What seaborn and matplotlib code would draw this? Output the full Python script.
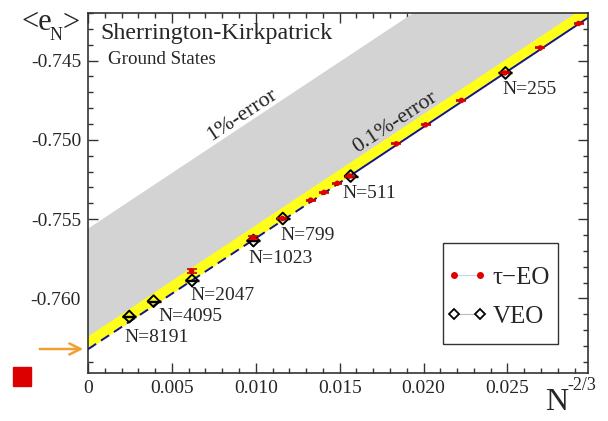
import numpy as np
import pandas as pd
import seaborn as sns
import matplotlib
matplotlib.use("Agg")
import matplotlib.pyplot as plt
from matplotlib.ticker import MultipleLocator, FuncFormatter
from matplotlib.lines import Line2D
from matplotlib.patches import Rectangle

# ---------------- data ----------------
tau_x = [0.00617, 0.00984, 0.01159, 0.01327, 0.01407, 0.01486, 0.01560,
         0.01838, 0.02012, 0.02226, 0.02484, 0.02696, 0.02924]
tau_y = [-0.75827, -0.75616, -0.75496, -0.75380, -0.75331, -0.75274, -0.75228,
         -0.75025, -0.74905, -0.74751, -0.74578, -0.74420, -0.74266]
tau_err = [0.00010, 0.00008, 0.00005, 0.00003, 0.00003, 0.00003, 0.00003,
           0.00003, 0.00003, 0.00003, 0.00003, 0.00003, 0.00003]

veo_N = ["N=8191", "N=4095", "N=2047", "N=1023", "N=799", "N=511", "N=255"]
veo_x = [0.00246, 0.00391, 0.00620, 0.00986, 0.01161, 0.01565, 0.02488]
veo_y = [-0.76114, -0.76017, -0.75886, -0.75635, -0.75496, -0.75228, -0.74578]
veo_err = [0.00003, 0.00003, 0.00003, 0.00003, 0.00003, 0.00003, 0.00003]

# fit / extrapolation lines and error bands
band_x = [0.0, 0.0298]
fit_y = [-0.7632, -0.7423]
yellow_hi = [-0.76235, -0.74145]
gray_hi = [-0.7556, -0.7347]
dash_x = [0.0, 0.0156]
dash_y = [-0.7632, -0.75228]
solid_x = [0.0156, 0.0298]
solid_y = [-0.75228, -0.7423]

# ---------------- style ----------------
sns.set_theme(style="ticks")
plt.rcParams["font.family"] = ["Liberation Serif", "DejaVu Serif"]
plt.rcParams["mathtext.fontset"] = "stix"

W, H = 608, 421
fig = plt.figure(figsize=(W / 100, H / 100), dpi=100)
fig.patch.set_facecolor("white")

def fx(px):
    return px / W

def fy(py):
    return 1 - py / H

ax = fig.add_axes([fx(88), fy(373), 500 / W, 360 / H])
ax.set_facecolor("white")

# bands
ax.fill_between(band_x, fit_y, gray_hi, color="#d3d3d3", lw=0, zorder=1)
ax.fill_between(band_x, fit_y, yellow_hi, color="#ffff1a", lw=0, zorder=2)

# fit lines
sns.lineplot(x=dash_x, y=dash_y, ax=ax, color="#14148c", lw=1.4,
             linestyle=(0, (5, 3)), zorder=3)
sns.lineplot(x=solid_x, y=solid_y, ax=ax, color="#14148c", lw=1.4, zorder=3)

# VEO points
ax.errorbar(veo_x, veo_y, yerr=veo_err, fmt="none", ecolor="black",
            elinewidth=1, capsize=5, capthick=1, zorder=4)
sns.scatterplot(x=veo_x, y=veo_y, ax=ax, marker="D", s=36, color="black",
                edgecolor="black", linewidth=1.4, zorder=5, legend=False)
ax.collections[-1].set_facecolor("none")

# tau-EO points
ax.errorbar(tau_x, tau_y, yerr=tau_err, fmt="none", ecolor="#cc0000",
            elinewidth=1, capsize=3.5, capthick=1.2, zorder=6)
sns.scatterplot(x=tau_x, y=tau_y, ax=ax, marker="o", s=16, color="#e00000",
                edgecolor="none", zorder=7, legend=False)

# axes
ax.set_xlim(0, 0.0298)
ax.set_ylim(-0.7647, -0.7420)
ax.xaxis.set_major_locator(MultipleLocator(0.005))
ax.xaxis.set_minor_locator(MultipleLocator(0.001))
ax.yaxis.set_major_locator(MultipleLocator(0.005))
ax.yaxis.set_minor_locator(MultipleLocator(0.001))
ax.xaxis.set_major_formatter(FuncFormatter(lambda v, p: "0" if abs(v) < 1e-9 else f"{v:.3f}"))
ax.yaxis.set_major_formatter(FuncFormatter(lambda v, p: f"{v:.3f}"))
ax.tick_params(which="both", direction="in", top=True, right=True,
               color="#333333", width=1)
ax.tick_params(which="major", length=7, labelsize=14, pad=5)
ax.tick_params(which="minor", length=3.5)
for s in ax.spines.values():
    s.set_color("#333333")
    s.set_linewidth(1.2)
ax.set_xlabel("")
ax.set_ylabel("")

# annotations
ax.text(0.00917, -0.74842, "1%-error", fontsize=16, rotation=33.4,
        ha="center", va="center", rotation_mode="anchor", zorder=8)
ax.text(0.01833, -0.74892, "0.1%-error", fontsize=16, rotation=33.4,
        ha="center", va="center", rotation_mode="anchor", zorder=8)

lab_x = [0.00214, 0.00417, 0.00613, 0.00958, 0.01149, 0.01518, 0.0247]
lab_y = [-0.76247, -0.76114, -0.75981, -0.75747, -0.75601, -0.75335, -0.74684]
for t, lx, ly in zip(veo_N, lab_x, lab_y):
    ax.text(lx, ly, t, fontsize=14, ha="left", va="center", zorder=8)

fig.text(fx(100), fy(33), "Sherrington-Kirkpatrick", fontsize=17.3,
         ha="left", va="center")
fig.text(fx(108), fy(60), "Ground States", fontsize=13.7, ha="left", va="center")

# y label <e_N>
fig.text(fx(21), fy(23), "<e", fontsize=22, ha="left", va="center")
fig.text(fx(50), fy(36), "N", fontsize=13, ha="left", va="center")
fig.text(fx(62), fy(23), ">", fontsize=22, ha="left", va="center")

# x label N^-2/3
fig.text(fx(545), fy(402), "N", fontsize=23, ha="left", va="center")
fig.text(fx(567), fy(385), "-2/3", fontsize=13, ha="left", va="center")

# legend (frame drawn separately to match the box proportions)
handles = [
    Line2D([], [], color="#c5d5e5", lw=0.8, marker="o", markersize=4,
           markerfacecolor="#e00000", markeredgecolor="#e00000"),
    Line2D([], [], color="#bbbbbb", lw=0.8, marker="D", markersize=5,
           markerfacecolor="white", markeredgecolor="black", markeredgewidth=1.3),
]
leg = ax.legend(handles, ["τ−EO", "VEO"], loc="upper left",
                bbox_to_anchor=(fx(446.5), fy(266)), bbox_transform=fig.transFigure,
                fontsize=18, frameon=False, numpoints=2,
                handlelength=1.64, handletextpad=0.2, borderpad=0,
                labelspacing=0.68, borderaxespad=0)
fig.add_artist(Rectangle((fx(443), fy(344)), 115 / W, 101 / H,
                         transform=fig.transFigure, facecolor="none",
                         edgecolor="#333333", lw=1.0))

# orange arrow marking the extrapolated value and red square
ax.annotate("", xy=(fx(86), fy(349)), xytext=(fx(37), fy(349)),
            xycoords="figure fraction", textcoords="figure fraction",
            arrowprops=dict(arrowstyle="->", color="#f0a030", lw=1.8,
                            mutation_scale=20),
            annotation_clip=False)
fig.add_artist(Rectangle((fx(13), fy(386)), 18 / W, 19 / H,
                         transform=fig.transFigure, color="#dd0000"))

fig.savefig("out.png", dpi=100)
